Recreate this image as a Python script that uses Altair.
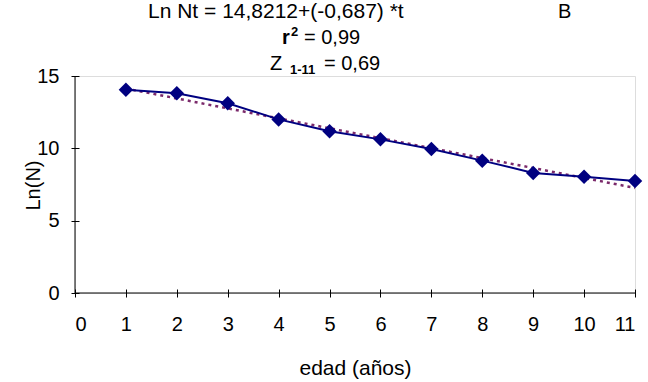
import altair as alt
import pandas as pd

ages = [1, 2, 3, 4, 5, 6, 7, 8, 9, 10, 11]
ln_n = [14.05, 13.8, 13.12, 12.0, 11.18, 10.62, 9.95, 9.15, 8.3, 8.03, 7.75]
intercept = 14.8212
slope = -0.687
fit_ages = [1, 11]

df = pd.DataFrame({"edad": ages, "lnN": ln_n})
fit = pd.DataFrame({"edad": fit_ages, "lnN": [intercept + slope * a for a in fit_ages]})

FONT = "Liberation Sans"
FS = 20
W, H = 560, 217

xscale = alt.Scale(domain=[0, 11], nice=False, zero=False)
yscale = alt.Scale(domain=[0, 15], nice=False)

xaxis = alt.Axis(values=list(range(0, 12)), title="edad (años)", grid=False, domain=False,
                 offset=-4, tickSize=8, labelPadding=17, labelFontSize=FS, titleFontSize=21,
                 titleFontWeight="normal", titleY=79, titleBaseline="middle",
                 labelFont=FONT, titleFont=FONT, tickColor="black",
                 labelColor="black", titleColor="black")
yaxis = alt.Axis(values=[0, 5, 10, 15], title="Ln(N)", grid=False, domain=False,
                 offset=-4, tickSize=8, labelPadding=12, labelFontSize=FS, titleFontSize=FS,
                 titleFontWeight="normal", titleX=-46, titleY=109, titleAngle=-90,
                 titleAlign="center", titleBaseline="middle",
                 labelFont=FONT, titleFont=FONT, tickColor="black",
                 labelColor="black", titleColor="black")

one = pd.DataFrame({"k": [0]})
xdomain = alt.Chart(one).mark_rule(color="black", strokeWidth=1).encode(
    x=alt.datum(0, scale=xscale), x2=alt.datum(11), y=alt.datum(0, scale=yscale))
ydomain = alt.Chart(one).mark_rule(color="black", strokeWidth=1).encode(
    x=alt.datum(0, scale=xscale), y=alt.datum(0, scale=yscale), y2=alt.datum(15))

trend = alt.Chart(fit).mark_line(color="#7B2A6B", strokeDash=[3, 4], strokeWidth=2.5).encode(
    x=alt.X("edad:Q", scale=xscale, axis=xaxis),
    y=alt.Y("lnN:Q", scale=yscale, axis=yaxis),
)
line = alt.Chart(df).mark_line(color="#000080", strokeWidth=2).encode(
    x=alt.X("edad:Q", scale=xscale),
    y=alt.Y("lnN:Q", scale=yscale),
)
pts = alt.Chart(df).mark_point(shape="diamond", filled=True, color="#000080", size=210, opacity=1).encode(
    x=alt.X("edad:Q", scale=xscale),
    y=alt.Y("lnN:Q", scale=yscale),
)

def txt(text, x, y, size=20, weight="normal", align="left"):
    return alt.Chart(pd.DataFrame({"t": [text]})).mark_text(
        font=FONT, fontSize=size, fontWeight=weight, align=align, baseline="middle", color="black"
    ).encode(text="t:N", x=alt.value(x), y=alt.value(y))

texts = [
    txt("Ln Nt = 14,8212+(-0,687) *t", 73, -64, size=21),
    txt("B", 483, -64, size=20),
    txt("r", 207, -38, weight="bold"),
    txt("2", 216, -44, size=13, weight="bold"),
    txt("= 0,99", 229, -38),
    txt("Z", 195, -12),
    txt("1-11", 215, -6, size=13, weight="bold"),
    txt("= 0,69", 249, -12),
]

chart = alt.layer(xdomain, ydomain, trend, line, pts, *texts).properties(
    width=W, height=H,
    autosize=alt.AutoSizeParams(type="none"),
    padding={"left": 75, "top": 76, "right": 13, "bottom": 89},
).configure_view(stroke=None).configure(background="white")

chart.save("out.html", embed_options={"renderer": "svg", "actions": False})
